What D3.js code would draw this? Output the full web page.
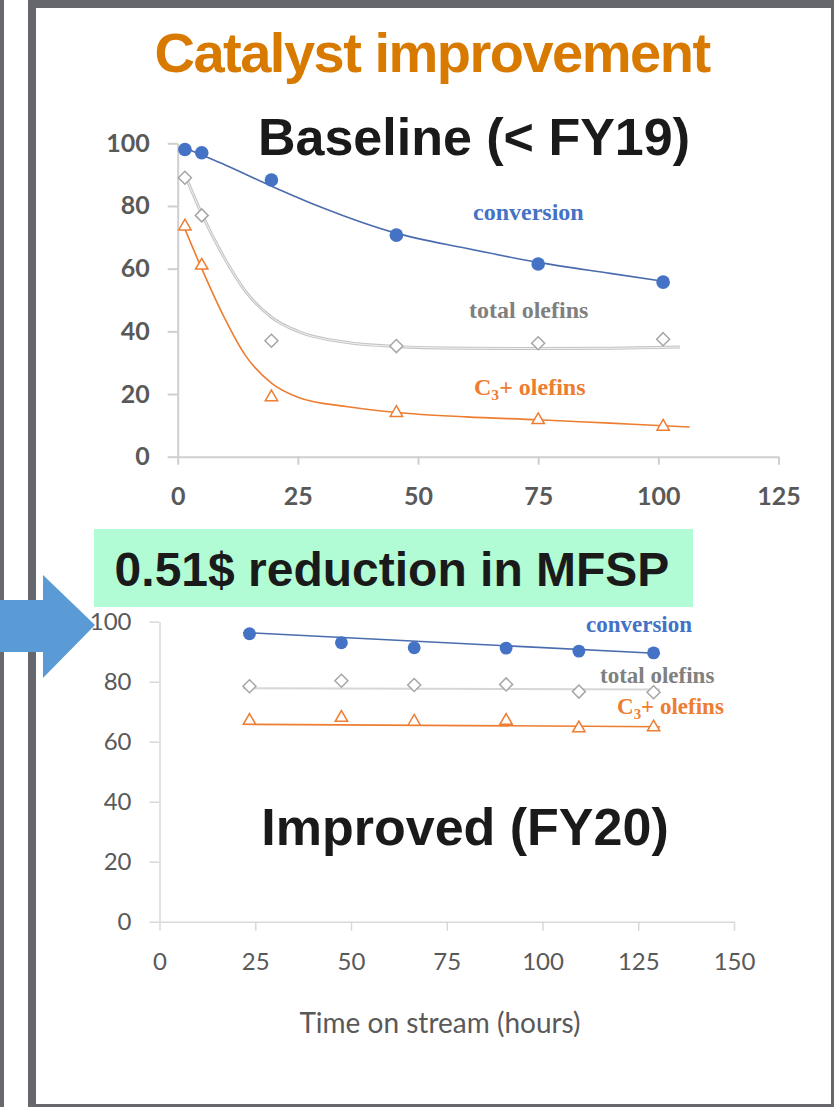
<!DOCTYPE html>
<html>
<head>
<meta charset="utf-8">
<script src="https://cdn.jsdelivr.net/npm/d3@7"></script>
<style>
  body { margin: 0; background: #fff; }
  svg { display: block; }
</style>
</head>
<body>
<svg width="834" height="1107"></svg>
<script>
// --- data ---
// top chart: baseline (< FY19)
const topHours = [1.5, 5, 19.5, 45.5, 75, 101];
const topConversion = [98, 97, 88.3, 70.7, 61.5, 55.7];
const topTotalOlefins = [89, 77, 37, 35.3, 36.2, 37.5];
const topC3Olefins = [73.5, 61, 19, 14, 11.7, 9.6];

// fitted curves of the top chart (read at several points)
const topConvFitHours = [1.5, 10, 20, 30, 45, 60, 75, 90, 101];
const topConvFit = [98.5, 93, 86, 79.5, 71.5, 66.5, 62, 58.5, 56];
const topTotalFitHours = [1.5, 5, 9.5, 14, 19.5, 25, 35, 45, 60, 75, 90, 104.5];
const topTotalFit = [90, 77.5, 64, 53, 44.5, 40, 36.5, 35.2, 34.6, 34.5, 34.6, 35];
const topC3FitHours = [1, 5, 9.5, 14, 19.5, 25, 35, 45, 60, 75, 90, 106.5];
const topC3Fit = [74.5, 60, 45, 32.5, 23.5, 19, 16, 14.2, 12.7, 11.8, 10.7, 9.5];

// bottom chart: improved (FY20)
const bottomHours = [23.5, 47.5, 66.5, 90.5, 109.5, 129];
const bottomConversion = [96, 93, 91.3, 91.2, 90.2, 89.6];
const bottomTotalOlefins = [78.5, 80.3, 78.9, 79.1, 76.7, 76.5];
const bottomC3Olefins = [67, 68, 66.7, 67, 64.5, 64.8];

const bottomFitHours = [21.8, 130.7];
const bottomConvFit = [96.4, 89.4];
const bottomTotalFit = [77.8, 77.4];
const bottomC3Fit = [65.8, 65.0];

// ticks
const yTicks = [0, 20, 40, 60, 80, 100];
const topXTicks = [0, 25, 50, 75, 100, 125];
const bottomXTicks = [0, 25, 50, 75, 100, 125, 150];

const blue = '#4472C4', orange = '#ED7D31', grey = '#a6a6a6';

const svg = d3.select('svg');
const zip = (xs, ys) => xs.map((x, i) => ({x: x, y: ys[i]}));

// frame
svg.append('rect').attr('x', 0).attr('y', 0).attr('width', 4).attr('height', 1107).attr('fill', '#67696e');
svg.append('rect')
    .attr('x', 32).attr('y', 4).attr('width', 803).attr('height', 1104)
    .attr('fill', 'none').attr('stroke', '#65676c').attr('stroke-width', 8);

// titles
svg.append('text')
    .attr('x', 432).attr('y', 72)
    .attr('text-anchor', 'middle')
    .style('font-family', 'Liberation Sans, Arial, sans-serif')
    .style('font-weight', 'bold').style('font-size', '56px')
    .style('letter-spacing', '-1.5px')
    .attr('fill', '#D87A00')
    .text('Catalyst improvement');

const drawChart = (opt) => {
    const x = d3.scaleLinear().domain(opt.xDomain).range(opt.xRange);
    const y = d3.scaleLinear().domain([0, 100]).range(opt.yRange);
    const g = svg.append('g');

    const yAxis = g.append('g')
        .attr('transform', `translate(${opt.xRange[0]},0)`)
        .call(d3.axisLeft(y).tickValues(yTicks).tickSize(10).tickSizeOuter(0).tickPadding(opt.yPad));
    const xAxis = g.append('g')
        .attr('transform', `translate(0,${opt.yRange[0]})`)
        .call(d3.axisBottom(x).tickValues(opt.xTicks).tickSize(opt.xTickSize).tickSizeOuter(0).tickPadding(opt.xPad));

    [yAxis, xAxis].forEach(a => {
        a.selectAll('.domain, .tick line').attr('stroke', opt.axisColor).attr('stroke-width', opt.axisWidth);
        a.selectAll('.tick text')
            .attr('fill', '#595959')
            .style('font-family', 'Lato, sans-serif')
            .style('font-size', opt.tickSize + 'px')
            .style('font-weight', opt.labelWeight);
    });

    const line = d3.line().x(d => x(d.x)).y(d => y(d.y)).curve(d3.curveMonotoneX);

    // fitted lines
    if (opt.totalDouble) {
        g.append('path').attr('d', line(opt.totalFit)).attr('fill', 'none')
            .attr('stroke', '#c4c4c4').attr('stroke-width', 3);
        g.append('path').attr('d', line(opt.totalFit)).attr('fill', 'none')
            .attr('stroke', '#f2f2f2').attr('stroke-width', 1);
    } else {
        g.append('path').attr('d', line(opt.totalFit)).attr('fill', 'none')
            .attr('stroke', '#d6d6d6').attr('stroke-width', 2);
    }
    g.append('path').attr('d', line(opt.convFit)).attr('fill', 'none')
        .attr('stroke', '#4a6cae').attr('stroke-width', 1.6);
    g.append('path').attr('d', line(opt.c3Fit)).attr('fill', 'none')
        .attr('stroke', orange).attr('stroke-width', 1.6);

    // markers
    g.selectAll('.conv').data(opt.conv).enter().append('path')
        .attr('transform', d => `translate(${x(d.x)},${y(d.y)})`)
        .attr('d', d3.symbol(d3.symbolCircle, opt.dotSize))
        .attr('fill', blue);
    g.selectAll('.tot').data(opt.total).enter().append('path')
        .attr('transform', d => `translate(${x(d.x)},${y(d.y)})`)
        .attr('d', d3.symbol(d3.symbolDiamond2, 108))
        .attr('fill', '#fff').attr('stroke', grey).attr('stroke-width', 1.5);
    g.selectAll('.c3').data(opt.c3).enter().append('path')
        .attr('transform', d => `translate(${x(d.x)},${y(d.y)})`)
        .attr('d', d3.symbol(d3.symbolTriangle, 66))
        .attr('fill', '#fff').attr('stroke', orange).attr('stroke-width', 1.5);

    // series labels
    const lab = (px, py, color) => g.append('text')
        .attr('x', px).attr('y', py)
        .attr('fill', color)
        .style('font-family', 'Liberation Serif, Times New Roman, serif')
        .style('font-weight', 'bold')
        .style('font-size', opt.labelSize + 'px');
    lab(opt.labels[0][0], opt.labels[0][1], blue).text('conversion');
    lab(opt.labels[1][0], opt.labels[1][1], '#808080').text('total olefins');
    const c3 = lab(opt.labels[2][0], opt.labels[2][1], orange);
    c3.append('tspan').text('C');
    c3.append('tspan').attr('dy', 5).style('font-size', (opt.labelSize * 0.65) + 'px').text('3');
    c3.append('tspan').attr('dy', -5).text('+ olefins');
    return g;
};

drawChart({
    xDomain: [0, 125], xRange: [177.7, 778.5], yRange: [456.7, 143.3],
    xTicks: topXTicks, xTickSize: 8, xPad: 23, yPad: 18,
    axisColor: '#cfcfcf', axisWidth: 2, labelWeight: 700, labelSize: 24, tickSize: 25,
    dotSize: 145,
    conv: zip(topHours, topConversion),
    total: zip(topHours, topTotalOlefins),
    c3: zip(topHours, topC3Olefins),
    convFit: zip(topConvFitHours, topConvFit),
    totalFit: zip(topTotalFitHours, topTotalFit),
    c3Fit: zip(topC3FitHours, topC3Fit),
    totalDouble: true,
    labels: [[473, 220], [469, 318], [474, 395]]
});

svg.append('text')
    .attr('x', 474).attr('y', 155)
    .attr('text-anchor', 'middle')
    .style('font-family', 'Liberation Sans, Arial, sans-serif')
    .style('font-weight', 'bold').style('font-size', '52px')
    .attr('fill', '#1a1a1a')
    .text('Baseline (< FY19)');

// green banner
svg.append('rect').attr('x', 94).attr('y', 529).attr('width', 599).attr('height', 78).attr('fill', '#B1FCD5');
svg.append('text')
    .attr('x', 392).attr('y', 586)
    .attr('text-anchor', 'middle')
    .style('font-family', 'Liberation Sans, Arial, sans-serif')
    .style('font-weight', 'bold').style('font-size', '48px')
    .attr('fill', '#1a1a1a')
    .text('0.51$ reduction in MFSP');

drawChart({
    xDomain: [0, 150], xRange: [159.5, 734], yRange: [921.7, 621.7],
    xTicks: bottomXTicks, xTickSize: 9, xPad: 22, yPad: 18,
    axisColor: '#d9d9d9', axisWidth: 1.5, labelWeight: 400, labelSize: 23, tickSize: 24,
    dotSize: 130,
    conv: zip(bottomHours, bottomConversion),
    total: zip(bottomHours, bottomTotalOlefins),
    c3: zip(bottomHours, bottomC3Olefins),
    convFit: zip(bottomFitHours, bottomConvFit),
    totalFit: zip(bottomFitHours, bottomTotalFit),
    c3Fit: zip(bottomFitHours, bottomC3Fit),
    totalDouble: false,
    labels: [[586, 632], [600, 683], [617, 714]]
});

svg.append('text')
    .attr('x', 465).attr('y', 845)
    .attr('text-anchor', 'middle')
    .style('font-family', 'Liberation Sans, Arial, sans-serif')
    .style('font-weight', 'bold').style('font-size', '52px')
    .attr('fill', '#1a1a1a')
    .text('Improved (FY20)');

svg.append('text')
    .attr('x', 440).attr('y', 1033)
    .attr('text-anchor', 'middle')
    .style('font-family', 'Lato, sans-serif')
    .style('font-size', '28px')
    .attr('fill', '#595959')
    .text('Time on stream (hours)');

// blue arrow over the frame
svg.append('polygon')
    .attr('points', [[0, 600], [43, 600], [43, 575], [95, 625], [43, 678], [43, 652], [0, 652]].join(' '))
    .attr('fill', '#5B9BD5');
</script>
</body>
</html>
